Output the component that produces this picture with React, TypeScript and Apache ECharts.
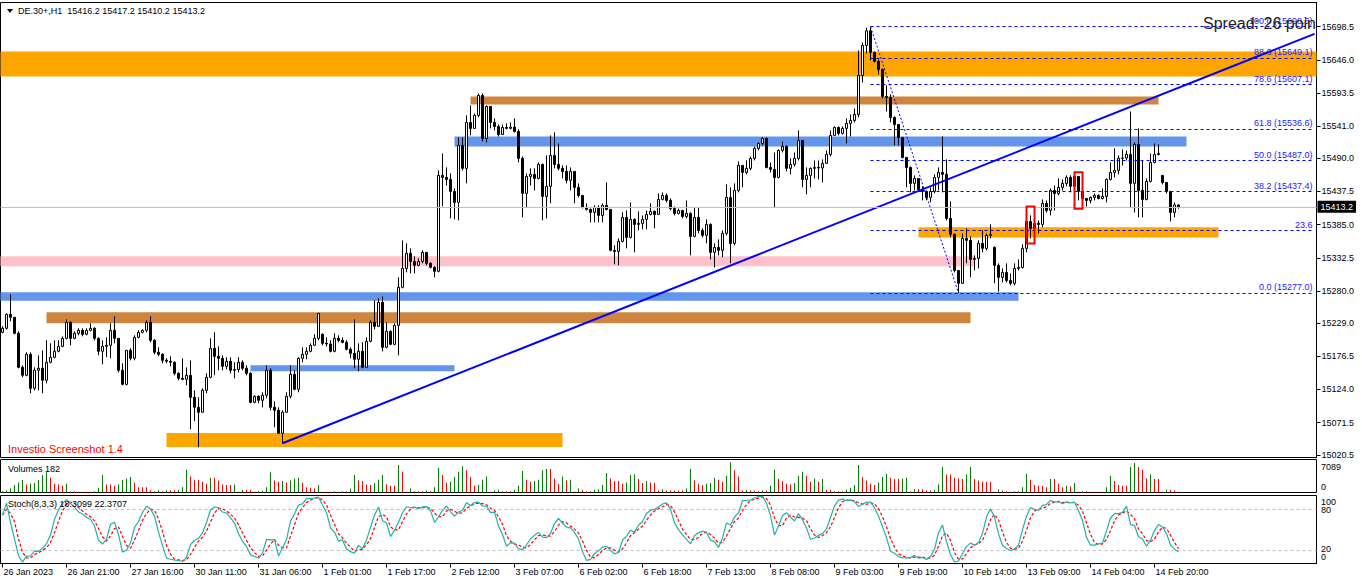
import React, { useEffect, useRef } from 'react';
import * as echarts from 'echarts';

// ---------- DATA ----------
const symbolName = 'DE.30+,H1';
const firstOpen = 15214.4;
const closes = [
  15220.8, 15242.9, 15238.2, 15212.9, 15159.0, 15146.4, 15179.6, 15125.8, 15154.3, 15157.5,
  15138.5, 15167.0, 15174.9, 15184.4, 15192.3, 15204.9, 15230.3, 15204.9, 15212.9, 15217.6,
  15211.3, 15217.6, 15220.8, 15204.9, 15184.4, 15192.3, 15193.9, 15217.6, 15204.9, 15154.3,
  15132.1, 15185.9, 15173.3, 15206.5, 15214.4, 15217.6, 15230.3, 15201.8, 15182.8, 15179.6,
  15170.1, 15168.5, 15167.0, 15149.5, 15141.6, 15140.0, 15146.4, 15111.5, 15095.7, 15087.8,
  15122.6, 15143.2, 15189.1, 15176.5, 15173.3, 15160.6, 15168.5, 15154.3, 15155.5, 15167.0,
  15157.5, 15149.5, 15103.6, 15113.1, 15106.8, 15114.7, 15154.3, 15095.7, 15091.0, 15054.6,
  15087.8, 15113.1, 15148.0, 15124.2, 15173.3, 15179.6, 15184.4, 15193.9, 15204.9, 15244.5,
  15197.0, 15196.0, 15184.4, 15204.9, 15201.8, 15198.6, 15187.5, 15181.2, 15171.7, 15184.4,
  15159.0, 15200.2, 15230.3, 15223.9, 15261.9, 15190.7, 15216.0, 15195.5, 15225.5, 15285.7,
  15315.6, 15339.5, 15326.8, 15320.5, 15326.8, 15341.1, 15323.7, 15317.4, 15311.0, 15463.0,
  15459.8, 15456.6, 15437.6, 15420.2, 15510.5, 15474.1, 15546.9, 15537.4, 15558.0, 15589.6,
  15521.5, 15572.2, 15546.9, 15540.5, 15527.8, 15538.9, 15537.5, 15539.5, 15532.6, 15489.9,
  15434.5, 15461.4, 15464.6, 15458.2, 15480.4, 15429.7, 15445.6, 15494.6, 15480.4, 15474.1,
  15469.3, 15455.1, 15469.3, 15444.0, 15431.3, 15412.3, 15409.1, 15404.4, 15412.3, 15399.6,
  15415.5, 15409.1, 15344.3, 15342.5, 15358.5, 15396.5, 15364.8, 15393.3, 15385.4, 15387.0,
  15393.3, 15401.2, 15406.0, 15401.2, 15425.0, 15431.3, 15423.4, 15410.6, 15402.8, 15407.5,
  15398.0, 15402.8, 15366.4, 15396.5, 15375.9, 15368.0, 15385.4, 15341.1, 15349.0, 15344.3,
  15371.2, 15428.1, 15355.3, 15439.2, 15478.8, 15467.7, 15474.1, 15489.9, 15505.7, 15513.6,
  15521.5, 15475.6, 15472.5, 15459.8, 15502.5, 15508.9, 15474.1, 15480.4, 15489.9, 15518.3,
  15456.6, 15463.0, 15474.1, 15475.6, 15474.8, 15482.0, 15496.2, 15526.3, 15538.9, 15529.4,
  15537.4, 15545.3, 15550.0, 15559.5, 15621.2, 15668.7, 15692.0, 15657.7, 15643.4, 15630.8,
  15588.0, 15586.5, 15554.8, 15543.7, 15523.1, 15491.4, 15475.6, 15450.3, 15458.2, 15440.7,
  15437.6, 15428.1, 15437.6, 15459.8, 15467.7, 15464.6, 15394.8, 15369.6, 15312.5, 15292.0,
  15363.2, 15360.1, 15330.0, 15331.5, 15355.3, 15347.4, 15368.0, 15369.6, 15320.5, 15301.5,
  15309.3, 15296.7, 15292.0, 15315.6, 15317.2, 15347.4, 15390.1, 15379.0, 15387.0, 15385.4,
  15418.6, 15407.5, 15439.2, 15434.4, 15443.9, 15450.3, 15459.8, 15445.6, 15461.4, 15437.6,
  15426.5, 15423.4, 15428.1, 15431.3, 15426.5, 15429.7, 15456.6, 15467.7, 15470.9, 15489.9,
  15490.5, 15496.1, 15450.3, 15512.0, 15439.2, 15424.9, 15453.4, 15483.5, 15496.1, 15497.7,
  15451.8, 15437.6, 15404.3, 15416.2, 15413.2,
];
const highs = [
  15224.0, 15244.5, 15274.6, 15236.6, 15216.0, 15162.2, 15182.8, 15182.8, 15159.0, 15178.0,
  15185.9, 15201.8, 15197.0, 15201.8, 15201.8, 15208.1, 15235.0, 15231.9, 15216.0, 15220.8,
  15220.8, 15220.8, 15228.7, 15222.4, 15206.5, 15201.8, 15206.5, 15228.7, 15239.8, 15204.9,
  15165.4, 15185.9, 15189.1, 15209.7, 15217.6, 15219.2, 15233.4, 15239.8, 15203.4, 15190.7,
  15181.2, 15173.3, 15176.5, 15168.5, 15151.1, 15173.3, 15159.0, 15170.1, 15122.6, 15111.5,
  15125.8, 15149.5, 15204.9, 15214.4, 15192.3, 15178.0, 15174.9, 15174.9, 15167.0, 15174.9,
  15170.1, 15162.2, 15151.1, 15114.7, 15114.7, 15119.5, 15162.2, 15157.5, 15105.2, 15095.7,
  15091.0, 15119.5, 15162.2, 15154.3, 15174.9, 15190.7, 15190.7, 15197.0, 15211.3, 15244.5,
  15212.9, 15206.5, 15201.8, 15212.9, 15209.7, 15206.5, 15201.8, 15190.7, 15235.0, 15197.0,
  15198.6, 15206.5, 15233.4, 15265.1, 15268.3, 15271.4, 15230.3, 15217.6, 15228.7, 15301.5,
  15360.1, 15355.3, 15347.4, 15334.8, 15331.6, 15344.3, 15341.1, 15325.3, 15319.0, 15470.9,
  15497.8, 15475.6, 15466.1, 15442.4, 15523.1, 15523.1, 15558.0, 15573.8, 15561.1, 15592.7,
  15592.7, 15573.8, 15554.8, 15553.2, 15543.7, 15543.7, 15545.3, 15546.9, 15553.2, 15535.8,
  15493.0, 15466.1, 15474.1, 15474.1, 15483.6, 15481.9, 15494.6, 15526.3, 15531.0, 15513.6,
  15478.8, 15478.8, 15475.6, 15469.3, 15450.3, 15431.3, 15418.7, 15410.6, 15415.5, 15415.5,
  15418.7, 15451.9, 15409.1, 15352.2, 15363.2, 15404.4, 15407.5, 15420.2, 15394.9, 15406.0,
  15399.6, 15407.5, 15418.7, 15407.5, 15434.5, 15436.1, 15434.5, 15426.6, 15413.9, 15410.6,
  15407.5, 15423.4, 15404.4, 15412.3, 15412.3, 15379.1, 15393.3, 15387.0, 15355.3, 15361.7,
  15375.9, 15448.7, 15443.9, 15450.3, 15485.1, 15478.8, 15486.7, 15493.0, 15508.9, 15515.2,
  15523.1, 15523.1, 15483.6, 15499.3, 15504.1, 15516.7, 15510.5, 15489.9, 15499.3, 15534.2,
  15518.3, 15475.6, 15475.6, 15486.7, 15486.7, 15488.3, 15502.5, 15534.2, 15540.5, 15540.5,
  15540.5, 15553.2, 15559.5, 15569.0, 15660.8, 15673.5, 15697.0, 15698.5, 15659.3, 15646.6,
  15632.4, 15605.4, 15591.2, 15556.4, 15543.7, 15523.1, 15491.4, 15477.2, 15463.0, 15458.2,
  15445.6, 15439.2, 15443.9, 15464.6, 15475.6, 15524.7, 15488.3, 15421.7, 15371.1, 15312.5,
  15371.1, 15379.1, 15366.4, 15336.3, 15360.1, 15375.9, 15371.1, 15385.4, 15350.5, 15323.7,
  15315.6, 15323.7, 15307.7, 15323.7, 15329.9, 15353.7, 15410.6, 15399.6, 15394.8, 15391.7,
  15424.9, 15423.4, 15442.3, 15447.1, 15458.2, 15456.6, 15463.0, 15463.0, 15464.6, 15461.4,
  15437.6, 15426.5, 15429.7, 15434.4, 15432.8, 15442.3, 15458.2, 15483.5, 15505.7, 15494.6,
  15504.1, 15502.5, 15564.2, 15515.1, 15537.3, 15486.6, 15458.2, 15497.7, 15513.5, 15512.0,
  15462.9, 15451.8, 15437.6, 15420.2, 15417.2,
];
const lows = [
  15212.9, 15219.2, 15231.9, 15211.3, 15157.5, 15143.2, 15144.8, 15117.9, 15122.6, 15122.6,
  15117.9, 15133.7, 15165.4, 15173.3, 15182.8, 15190.7, 15203.4, 15193.9, 15203.4, 15209.7,
  15208.1, 15209.7, 15216.0, 15201.8, 15178.0, 15163.8, 15174.9, 15173.3, 15197.0, 15151.1,
  15130.5, 15130.5, 15170.1, 15170.1, 15204.9, 15212.9, 15214.4, 15198.6, 15179.6, 15176.5,
  15165.4, 15165.4, 15160.6, 15146.4, 15138.5, 15138.5, 15130.5, 15060.9, 15073.6, 15032.4,
  15087.8, 15117.9, 15141.6, 15146.4, 15154.3, 15154.3, 15155.9, 15149.5, 15141.6, 15151.1,
  15154.3, 15146.4, 15102.1, 15102.1, 15102.1, 15095.7, 15110.0, 15091.0, 15064.1, 15054.6,
  15038.7, 15087.8, 15110.0, 15122.6, 15119.5, 15167.0, 15171.7, 15182.8, 15193.9, 15201.8,
  15193.9, 15192.3, 15182.8, 15182.8, 15198.6, 15197.0, 15185.9, 15173.3, 15157.5, 15152.7,
  15157.5, 15159.0, 15198.6, 15219.2, 15223.9, 15184.4, 15189.1, 15193.9, 15193.9, 15178.0,
  15284.1, 15309.4, 15307.8, 15307.8, 15319.0, 15323.7, 15320.5, 15315.8, 15301.5, 15309.4,
  15413.9, 15447.1, 15394.9, 15393.3, 15391.7, 15470.9, 15450.3, 15526.3, 15537.4, 15554.8,
  15516.7, 15515.1, 15537.4, 15534.1, 15524.7, 15527.8, 15535.8, 15535.8, 15531.0, 15483.6,
  15396.5, 15412.3, 15447.1, 15439.2, 15456.6, 15391.7, 15394.9, 15418.7, 15474.1, 15470.9,
  15458.2, 15450.3, 15439.2, 15418.7, 15428.1, 15410.6, 15407.5, 15388.5, 15388.5, 15388.5,
  15388.5, 15407.5, 15342.7, 15322.1, 15320.5, 15356.9, 15347.4, 15363.2, 15341.1, 15375.9,
  15377.5, 15377.5, 15399.6, 15379.1, 15412.3, 15423.4, 15420.2, 15407.5, 15399.6, 15401.2,
  15394.9, 15394.9, 15336.3, 15364.8, 15371.2, 15364.8, 15355.3, 15330.0, 15317.4, 15336.3,
  15333.2, 15368.0, 15323.7, 15352.2, 15436.1, 15444.0, 15464.6, 15470.9, 15486.7, 15502.5,
  15510.5, 15474.1, 15467.7, 15412.3, 15458.2, 15499.3, 15469.3, 15464.6, 15477.2, 15486.7,
  15444.0, 15432.9, 15444.0, 15458.2, 15456.6, 15451.9, 15486.7, 15493.0, 15526.3, 15526.3,
  15527.8, 15513.6, 15524.7, 15546.9, 15554.8, 15610.1, 15656.0, 15645.0, 15641.9, 15622.9,
  15584.9, 15564.3, 15546.9, 15510.4, 15510.4, 15489.9, 15444.0, 15436.1, 15439.2, 15439.2,
  15423.4, 15423.4, 15420.2, 15434.5, 15439.2, 15436.1, 15391.7, 15364.8, 15309.3, 15277.0,
  15292.0, 15323.7, 15301.5, 15312.5, 15315.6, 15341.1, 15344.3, 15363.2, 15292.0, 15279.0,
  15293.5, 15293.5, 15288.8, 15288.8, 15312.5, 15315.6, 15341.1, 15363.2, 15374.3, 15371.1,
  15380.6, 15404.3, 15399.6, 15407.5, 15431.3, 15439.2, 15445.6, 15436.1, 15442.3, 15423.4,
  15420.2, 15413.9, 15418.6, 15423.4, 15424.9, 15424.9, 15420.2, 15455.0, 15459.8, 15464.6,
  15478.7, 15486.6, 15412.2, 15404.3, 15396.4, 15396.4, 15423.4, 15451.9, 15481.9, 15494.5,
  15448.7, 15434.4, 15390.1, 15396.4, 15410.2,
];
// bars whose open differs from the previous close: [index, open]
const gapOpens = [[80, 15211.3], [248, 15349.0], [290, 15462.9]];
const volumes = [
  315, 552, 945, 1734, 2364, 2916, 1891, 2128, 2206, 2916,
  4098, 4728, 3467, 2049, 1891, 1576, 2049, 315, 315, 158,
  158, 158, 158, 315, 1103, 4098, 1891, 1891, 1576, 1891,
  2916, 3310, 3625, 2364, 1261, 1261, 1261, 552, 315, 552,
  315, 552, 552, 552, 630, 1261, 5358, 3782, 2994, 2994,
  2522, 2049, 3467, 3467, 2837, 1891, 1734, 1734, 1891, 158,
  630, 630, 630, 158, 315, 394, 1261, 4728, 2837, 2522,
  2679, 2364, 2837, 3310, 3467, 2364, 1261, 1103, 945, 1734,
  158, 158, 158, 315, 158, 315, 315, 945, 4098, 2837,
  2679, 1891, 1734, 2206, 2994, 4098, 1891, 1576, 1576, 6462,
  4886, 158, 945, 315, 315, 315, 473, 315, 1261, 5831,
  4098, 2364, 2522, 3625, 4886, 6146, 5201, 3625, 1576, 1734,
  2994, 3782, 158, 473, 630, 315, 315, 315, 630, 1576,
  5043, 2994, 2522, 2679, 2994, 5201, 5516, 5516, 3310, 2049,
  3782, 2837, 2994, 158, 945, 630, 315, 315, 630, 788,
  1734, 4570, 3310, 2679, 2679, 2049, 2364, 4098, 4255, 3152,
  2206, 2679, 2364, 2206, 473, 788, 473, 473, 473, 473,
  473, 945, 5516, 2837, 2049, 1734, 2049, 2206, 3467, 2994,
  2522, 3940, 7089, 5201, 3782, 473, 630, 473, 473, 315,
  473, 473, 1576, 5358, 3152, 2679, 2049, 1891, 2206, 3940,
  4886, 3940, 2522, 3310, 2522, 3152, 630, 630, 315, 315,
  315, 630, 1103, 1734, 6462, 3625, 2837, 2049, 1734, 2364,
  3625, 4413, 3467, 3152, 3152, 3310, 3467, 315, 788, 788,
  788, 473, 473, 630, 1891, 5989, 4255, 4255, 3467, 3310,
  3152, 4255, 5989, 3152, 2837, 2522, 2522, 2522, 158, 788,
  473, 315, 158, 315, 315, 1261, 4413, 2994, 1734, 1576,
  1576, 1261, 3152, 3152, 2049, 1261, 1576, 1418, 2206, 158,
  315, 315, 158, 158, 158, 158, 1261, 3940, 2679, 1734,
  1576, 1576, 5989, 6934, 5989, 5358, 3310, 4255, 3152, 3152,
  158, 630, 630, 473, 182,
];
const tickLabels = [
  '26 Jan 2023', '26 Jan 21:00', '27 Jan 16:00', '30 Jan 11:00', '31 Jan 06:00',
  '1 Feb 01:00', '1 Feb 17:00', '2 Feb 12:00', '3 Feb 07:00', '6 Feb 02:00',
  '6 Feb 18:00', '7 Feb 13:00', '8 Feb 08:00', '9 Feb 03:00', '9 Feb 19:00',
  '10 Feb 14:00', '13 Feb 09:00', '14 Feb 04:00', '14 Feb 20:00',
];
const priceTicks = [
  15020.5, 15071.5, 15124.0, 15176.5, 15229.0, 15280.0, 15332.5,
  15385.0, 15437.5, 15490.0, 15541.0, 15593.5, 15646.0, 15698.5,
];
const volumeScaleLabel = 7089;
const stochLabel = 'Stoch(8,3,3) 18.3099 22.3707';
const stochLevels = [80, 20];
const spreadText = 'Spread: 26 poin';
const watermark = 'Investio Screenshot 1.4';
// Fibonacci retracement
const fibHighIndex = 217;
const fibLowIndex = 239;
const fibLevels = ['100.0', '88.6', '78.6', '61.8', '50.0', '38.2', '23.6', '0.0'];
const fibPrices = [15698.5, 15649.1, 15607.1, 15536.6, 15487.0, 15437.4, 15376.5, 15277.0];
const fibShowPrice = [true, true, true, true, true, true, false, true];
// trend line [index, price]
const trendLine = [[70, 15038.7], [328, 15687.2]];
// zones: [startIndex | null (left edge), endIndex | null (right edge), top, bottom]
const zones = [
  [null, null, 15659.2, 15619.6],
  [117, 289, 15588.0, 15575.4],
  [113, 296, 15524.7, 15508.9],
  [229, 304, 15380.7, 15364.8],
  [null, 243, 15334.8, 15319.0],
  [null, 254, 15277.8, 15264.3],
  [11, 242, 15246.1, 15228.7],
  [62, 113, 15162.2, 15152.7],
  [41, 140, 15055.0, 15032.9],
];
const zoneKinds = ['orange', 'peru', 'blue', 'orange', 'pink', 'blue', 'peru', 'blue', 'orange'];
// red boxes: [startIndex, top, endIndex, bottom]
const redBoxes = [
  [256, 15413.9, 258, 15355.3],
  [268, 15468.1, 270, 15410.2],
];
const totalSlots = 329;

// ---------- STYLE ----------
const zoneColors: Record<string, string> = {
  orange: '#FFA500',
  peru: '#CD853F',
  blue: '#6495ED',
  pink: '#FFC0CB',
};
const FONT = 'Liberation Sans';

function buildOption() {
  const cats = Array.from({ length: totalSlots }, (_, i) => String(i));
  const ohlc = closes.map((c, i) => {
    let o = i === 0 ? firstOpen : closes[i - 1];
    const g = gapOpens.find((x) => x[0] === i);
    if (g) o = g[1];
    const h = Math.max(highs[i], o, c);
    const l = Math.min(lows[i], o, c);
    return [o, c, l, h];
  });

  // Stochastic (8,3,3) from the candles
  const K = 8, SLOW = 3, D = 3;
  const lowK = ohlc.map((_, i) => Math.min(...ohlc.slice(Math.max(0, i - K + 1), i + 1).map((b) => b[2])));
  const highK = ohlc.map((_, i) => Math.max(...ohlc.slice(Math.max(0, i - K + 1), i + 1).map((b) => b[3])));
  const stochMain = ohlc.map((_, i) => {
    let num = 0, den = 0;
    for (let j = Math.max(0, i - SLOW + 1); j <= i; j++) {
      num += ohlc[j][1] - lowK[j];
      den += highK[j] - lowK[j];
    }
    return den === 0 ? 50 : (num / den) * 100;
  });
  const stochSignal = stochMain.map((_, i) => {
    const s = stochMain.slice(Math.max(0, i - D + 1), i + 1);
    return s.reduce((a, b) => a + b, 0) / s.length;
  });

  const volData = volumes.map((v, i) => ({
    value: v,
    itemStyle: { color: i === 0 || v > volumes[i - 1] ? '#008000' : '#FF0000' },
  }));

  const last = ohlc[ohlc.length - 1];
  const lastClose = last[1];
  const header = `${symbolName}  ${last[0].toFixed(1)} ${last[3].toFixed(1)} ${last[2].toFixed(1)} ${last[1].toFixed(1)}`;

  const zoneData = zones.map((z, k) => {
    const a: any = { yAxis: z[2], itemStyle: { color: zoneColors[zoneKinds[k]], opacity: 1, borderWidth: 0 } };
    const b: any = { yAxis: z[3] };
    if (z[0] !== null) a.xAxis = z[0];
    if (z[1] !== null) b.xAxis = z[1];
    return [a, b];
  });

  const fibStyle = { color: '#0000FF', type: [3, 3] as any, width: 1 };
  const fibLines = fibPrices.map((p, k) => {
    const text = fibShowPrice[k] ? `${fibLevels[k]} (${p.toFixed(1)})` : fibLevels[k];
    const lbl = { show: true, position: 'insideEndTop', formatter: text, color: '#1A1AFF', fontSize: 9, fontFamily: FONT, distance: [2, 1] };
    return [
      { coord: [fibHighIndex, p], lineStyle: fibStyle, label: lbl },
      { coord: [totalSlots - 1, p], lineStyle: fibStyle, label: lbl },
    ];
  });

  const tickShown = (i: number) => i % 16 === 0 && i / 16 < tickLabels.length;

  const hiddenCat = (gi: number) => ({
    type: 'category', gridIndex: gi, data: cats, boundaryGap: true,
    axisLine: { show: false }, axisTick: { show: false }, axisLabel: { show: false }, splitLine: { show: false },
  });

  const txt = (text: string, x: number, y: number, size: number, fill: string, extra: any = {}) => ({
    type: 'text', x, y, z: 100, silent: true,
    style: { text, fill, fontSize: size, fontFamily: FONT, verticalAlign: 'middle', align: 'left', ...extra },
  });

  return {
    animation: false,
    backgroundColor: '#FFFFFF',
    textStyle: { fontFamily: FONT },
    grid: [
      { left: 0.5, top: 2.5, width: 1316, height: 455, show: true, borderColor: '#000', borderWidth: 1, backgroundColor: 'transparent' },
      { left: 0.5, top: 459.5, width: 1316, height: 33, show: true, borderColor: '#000', borderWidth: 1, backgroundColor: 'transparent' },
      { left: 0.5, top: 495.5, width: 1316, height: 68, show: true, borderColor: '#000', borderWidth: 1, backgroundColor: 'transparent' },
    ],
    xAxis: [
      hiddenCat(0),
      hiddenCat(1),
      {
        type: 'category', gridIndex: 2, data: cats, boundaryGap: true,
        axisLine: { show: true, lineStyle: { color: '#000', width: 1 } },
        axisTick: { show: true, inside: false, length: 4, alignWithLabel: true, interval: tickShown, lineStyle: { color: '#000' } },
        axisLabel: {
          show: true, interval: tickShown, align: 'left', color: '#000', fontSize: 9, fontFamily: FONT, margin: 4,
          padding: [0, 0, 0, 1],
          formatter: (_v: string, i: number) => (tickShown(i) ? tickLabels[i / 16] : ''),
        },
        splitLine: { show: false },
      },
    ],
    yAxis: [
      {
        type: 'value', gridIndex: 0, position: 'right', min: 15016.2, max: 15736.8,
        axisLine: { show: true, lineStyle: { color: '#000', width: 1 } },
        axisTick: { show: true, length: 4, customValues: priceTicks, lineStyle: { color: '#000' } },
        axisLabel: { show: true, customValues: priceTicks, formatter: (v: number) => v.toFixed(1), color: '#000', fontSize: 9, fontFamily: FONT, margin: 5 },
        splitLine: { show: false },
      },
      { type: 'value', gridIndex: 1, min: 0, max: 7750, show: false, splitLine: { show: false } },
      { type: 'value', gridIndex: 2, min: 0, max: 100, show: false, splitLine: { show: false } },
    ],
    series: [
      {
        type: 'candlestick', xAxisIndex: 0, yAxisIndex: 0, data: ohlc, barWidth: 2, z: 2,
        itemStyle: { color: '#FFFFFF', color0: '#000000', borderColor: '#000000', borderColor0: '#000000', borderColorDoji: '#000000', borderWidth: 1 },
        markArea: { silent: true, z: 1, label: { show: false }, data: zoneData },
        markLine: {
          silent: true, z: 5, symbol: ['none', 'none'], animation: false,
          data: [
            ...fibLines,
            [
              { coord: [fibHighIndex, fibPrices[0]], lineStyle: { color: '#0000FF', type: [2, 2], width: 1 }, label: { show: false } },
              { coord: [fibLowIndex, fibPrices[fibPrices.length - 1]], lineStyle: { color: '#0000FF', type: [2, 2], width: 1 }, label: { show: false } },
            ],
            [
              { coord: trendLine[0], lineStyle: { color: '#0000FF', type: 'solid', width: 2 }, label: { show: false } },
              { coord: trendLine[1], lineStyle: { color: '#0000FF', type: 'solid', width: 2 }, label: { show: false } },
            ],
            {
              yAxis: lastClose,
              lineStyle: { color: '#C0C0C0', type: 'solid', width: 1 },
              label: { show: true, position: 'end', formatter: lastClose.toFixed(1), backgroundColor: '#000', color: '#FFF', fontSize: 9, fontFamily: FONT, padding: [2, 3, 1, 3], distance: 1 },
            },
          ],
        },
      },
      {
        type: 'line', xAxisIndex: 0, yAxisIndex: 0, data: [], z: 6, silent: true,
        markArea: {
          silent: true, z: 6, label: { show: false },
          data: redBoxes.map((b) => [
            { xAxis: b[0], yAxis: b[1], itemStyle: { color: 'rgba(0,0,0,0)', borderColor: '#FF0000', borderWidth: 2 } },
            { xAxis: b[2], yAxis: b[3] },
          ]),
        },
      },
      {
        type: 'bar', xAxisIndex: 1, yAxisIndex: 1, data: volData, barWidth: 1, silent: true,
      },
      {
        type: 'line', xAxisIndex: 2, yAxisIndex: 2, data: stochMain, symbol: 'none', silent: true,
        lineStyle: { color: '#20B2AA', width: 1.2 }, z: 3,
        markLine: {
          silent: true, symbol: ['none', 'none'], label: { show: false }, z: 1,
          lineStyle: { color: '#C0C0C0', type: [3, 3], width: 1 },
          data: stochLevels.map((v) => ({ yAxis: v })),
        },
      },
      {
        type: 'line', xAxisIndex: 2, yAxisIndex: 2, data: stochSignal, symbol: 'none', silent: true,
        lineStyle: { color: '#FF0000', width: 1.2, type: [3, 2] }, z: 2,
      },
    ],
    graphic: [
      { type: 'polygon', z: 100, silent: true, shape: { points: [[7, 9], [13, 9], [10, 13]] }, style: { fill: '#000' } },
      txt(header, 18, 11, 9, '#000'),
      txt(spreadText, 1203, 23, 16, '#222'),
      txt(watermark, 8, 449, 11, '#FF0000'),
      txt(`Volumes ${volumes[volumes.length - 1]}`, 8, 469, 9, '#000'),
      txt(stochLabel, 8, 504, 9, '#000'),
      txt(String(volumeScaleLabel), 1321, 467, 9, '#000'),
      txt('0', 1321, 487, 9, '#000'),
      txt('100', 1321, 502, 9, '#000'),
      txt(String(stochLevels[0]), 1321, 509.5, 9, '#000'),
      txt(String(stochLevels[1]), 1321, 549, 9, '#000'),
      txt('0', 1321, 556.5, 9, '#000'),
    ],
  };
}

export default function App() {
  const ref = useRef<HTMLDivElement | null>(null);
  useEffect(() => {
    if (!ref.current) return;
    const chart = echarts.init(ref.current, undefined, { renderer: 'svg' });
    chart.setOption(buildOption() as any);
    return () => chart.dispose();
  }, []);
  return (
    <div
      ref={ref}
      style={{ position: 'fixed', left: 0, top: 0, width: 1362, height: 585, background: '#FFFFFF' }}
    />
  );
}
